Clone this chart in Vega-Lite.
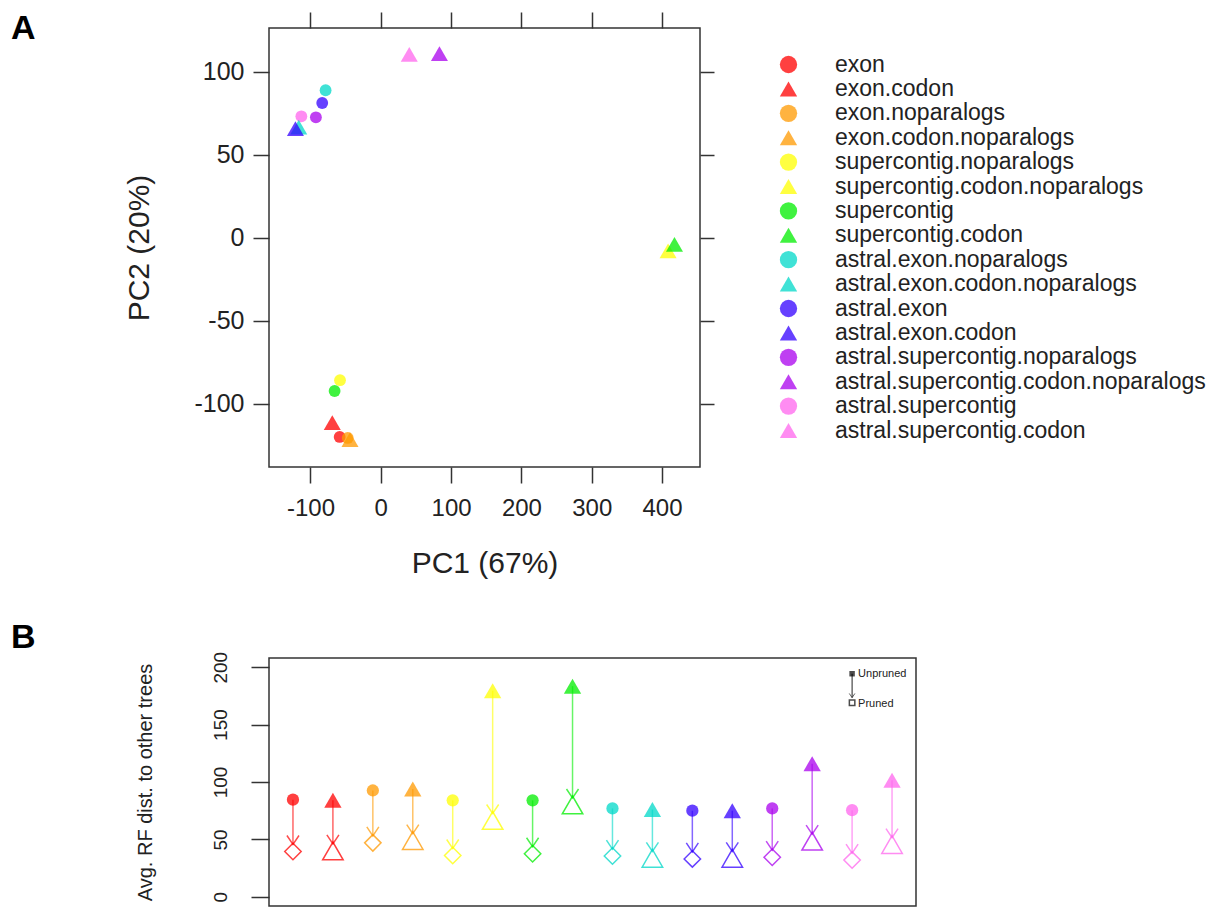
{
  "$schema": "https://vega.github.io/schema/vega-lite/v6.json",
  "background": "white",
  "padding": {"left": 10, "top": 10, "right": 0, "bottom": 0},
  "config": {
    "font": "Liberation Sans",
    "view": {"stroke": "#333", "strokeWidth": 1.5},
    "axis": {"grid": false, "domain": false, "tickColor": "#333", "tickWidth": 1.5, "labelColor": "#222", "titleColor": "#222", "titleFontWeight": "normal"},
    "title": {"color": "#000", "fontWeight": "bold", "fontSize": 34, "anchor": "start", "frame": "group", "baseline": "alphabetic"},
    "legend": {"orient": "none", "legendX": 508, "legendY": 25, "title": null, "labelFontSize": 23, "labelColor": "#222", "labelOffset": 35, "labelLimit": 0, "rowPadding": 0.4, "padding": 0, "symbolLimit": 0, "symbolSize": 300, "symbolStrokeWidth": 0,
      "labelExpr": "datum.label == 'supercontig.codon.noparalogs' ? '\u00a0supercontig.codon.noparalogs' : datum.label"}
  },
  "datasets": {
    "pca": [
      {"method": "exon", "pc1": -58.5, "pc2": -119.9},
      {"method": "exon.codon", "pc1": -69, "pc2": -111.3},
      {"method": "exon.noparalogs", "pc1": -47, "pc2": -120.5},
      {"method": "exon.codon.noparalogs", "pc1": -43.8, "pc2": -121.5},
      {"method": "supercontig.noparalogs", "pc1": -58, "pc2": -85.7},
      {"method": "supercontig.codon.noparalogs", "pc1": 408.6, "pc2": -7.8},
      {"method": "supercontig", "pc1": -65.7, "pc2": -92.2},
      {"method": "supercontig.codon", "pc1": 417.7, "pc2": -3.8},
      {"method": "astral.exon.noparalogs", "pc1": -78.5, "pc2": 89},
      {"method": "astral.exon.codon.noparalogs", "pc1": -116.7, "pc2": 66.8},
      {"method": "astral.exon", "pc1": -83.3, "pc2": 81.3},
      {"method": "astral.exon.codon", "pc1": -121.4, "pc2": 65.8},
      {"method": "astral.supercontig.noparalogs", "pc1": -92.3, "pc2": 72.7},
      {"method": "astral.supercontig.codon.noparalogs", "pc1": 83.4, "pc2": 111},
      {"method": "astral.supercontig", "pc1": -113, "pc2": 73.3},
      {"method": "astral.supercontig.codon", "pc1": 40.5, "pc2": 110.6}
    ],
    "rf": [
      {"method": "exon", "unpruned": 84.6, "pruned": 39.5},
      {"method": "exon.codon", "unpruned": 84, "pruned": 40},
      {"method": "exon.noparalogs", "unpruned": 92.6, "pruned": 47},
      {"method": "exon.codon.noparalogs", "unpruned": 94, "pruned": 49},
      {"method": "supercontig.noparalogs", "unpruned": 84, "pruned": 36},
      {"method": "supercontig.codon.noparalogs", "unpruned": 179.5, "pruned": 66.5},
      {"method": "supercontig", "unpruned": 84, "pruned": 37.5},
      {"method": "supercontig.codon", "unpruned": 183.5, "pruned": 80},
      {"method": "astral.exon.noparalogs", "unpruned": 77, "pruned": 35.5},
      {"method": "astral.exon.codon.noparalogs", "unpruned": 76, "pruned": 33.5},
      {"method": "astral.exon", "unpruned": 75, "pruned": 33},
      {"method": "astral.exon.codon", "unpruned": 75, "pruned": 33.5},
      {"method": "astral.supercontig.noparalogs", "unpruned": 77, "pruned": 34.5},
      {"method": "astral.supercontig.codon.noparalogs", "unpruned": 116, "pruned": 48.5},
      {"method": "astral.supercontig", "unpruned": 75.5, "pruned": 32},
      {"method": "astral.supercontig.codon", "unpruned": 101.5, "pruned": 45.5}
    ]
  },
  "spacing": 41,
  "resolve": {"legend": {"color": "independent", "shape": "independent"}},
  "vconcat": [
    {
      "width": 431,
      "height": 439,
      "title": {"text": "A", "orient": "top", "dx": -258, "dy": 35, "offset": 0},
      "data": {"name": "pca"},
      "encoding": {
        "color": {"field": "method", "type": "nominal",
          "scale": {"domain": ["exon", "exon.codon", "exon.noparalogs", "exon.codon.noparalogs", "supercontig.noparalogs", "supercontig.codon.noparalogs", "supercontig", "supercontig.codon", "astral.exon.noparalogs", "astral.exon.codon.noparalogs", "astral.exon", "astral.exon.codon", "astral.supercontig.noparalogs", "astral.supercontig.codon.noparalogs", "astral.supercontig", "astral.supercontig.codon"],
            "range": ["#ff0000", "#ff0000", "#ff9900", "#ff9900", "#ffff00", "#ffff00", "#00ee00", "#00ee00", "#00d8c8", "#00d8c8", "#3300ff", "#3300ff", "#aa00ee", "#aa00ee", "#ff66ee", "#ff66ee"]},
          "legend": {"encode": {"symbols": {"update": {"size": {"signal": "indexof(datum.value, 'codon') >= 0 ? 430 : 240"}}}}}},
        "shape": {"field": "method", "type": "nominal",
          "scale": {"domain": ["exon", "exon.codon", "exon.noparalogs", "exon.codon.noparalogs", "supercontig.noparalogs", "supercontig.codon.noparalogs", "supercontig", "supercontig.codon", "astral.exon.noparalogs", "astral.exon.codon.noparalogs", "astral.exon", "astral.exon.codon", "astral.supercontig.noparalogs", "astral.supercontig.codon.noparalogs", "astral.supercontig", "astral.supercontig.codon"],
            "range": ["circle", "triangle-up", "circle", "triangle-up", "circle", "triangle-up", "circle", "triangle-up", "circle", "triangle-up", "circle", "triangle-up", "circle", "triangle-up", "circle", "triangle-up"]},
          "legend": {"encode": {"symbols": {"update": {"size": {"signal": "indexof(datum.value, 'codon') >= 0 ? 430 : 240"}}}}}}
      },
      "layer": [
        {
          "transform": [{"filter": "indexof(datum.method, 'codon') < 0"}],
          "mark": {"type": "point", "filled": true, "opacity": 0.75, "strokeWidth": 0, "size": 140},
          "encoding": {
            "x": {"field": "pc1", "type": "quantitative", "scale": {"domain": [-159, 454], "nice": false, "zero": false},
              "axis": {"orient": "bottom", "values": [-100, 0, 100, 200, 300, 400], "labelExpr": "'' + datum.value", "title": "PC1 (67%)", "tickSize": 16, "labelFontSize": 24, "titleFontSize": 30, "labelPadding": 13, "titlePadding": 28}},
            "y": {"field": "pc2", "type": "quantitative", "scale": {"domain": [-138, 126.5], "nice": false, "zero": false},
              "axis": {"orient": "left", "values": [-100, -50, 0, 50, 100], "labelExpr": "'' + datum.value", "title": "PC2 (20%)", "tickSize": 16, "labelFontSize": 25, "titleFontSize": 30, "labelPadding": 9, "titlePadding": 39}}
          }
        },
        {
          "transform": [{"filter": "indexof(datum.method, 'codon') >= 0"}],
          "mark": {"type": "point", "filled": true, "opacity": 0.75, "strokeWidth": 0, "size": 290},
          "encoding": {
            "x": {"field": "pc1", "type": "quantitative", "axis": {"orient": "top", "values": [-100, 0, 100, 200, 300, 400], "labels": false, "title": null, "tickSize": 16}},
            "y": {"field": "pc2", "type": "quantitative", "axis": {"orient": "right", "values": [-100, -50, 0, 50, 100], "labels": false, "title": null, "tickSize": 14}}
          }
        }
      ],
      "resolve": {"axis": {"x": "independent", "y": "independent"}}
    },
    {
      "width": 647,
      "height": 248,
      "title": {"text": "B", "orient": "top", "dx": -258, "dy": 14, "offset": 10},
      "data": {"name": "rf"},
      "encoding": {
        "x": {"field": "method", "type": "nominal", "axis": null,
          "scale": {"type": "point", "padding": 0.6, "domain": ["exon", "exon.codon", "exon.noparalogs", "exon.codon.noparalogs", "supercontig.noparalogs", "supercontig.codon.noparalogs", "supercontig", "supercontig.codon", "astral.exon.noparalogs", "astral.exon.codon.noparalogs", "astral.exon", "astral.exon.codon", "astral.supercontig.noparalogs", "astral.supercontig.codon.noparalogs", "astral.supercontig", "astral.supercontig.codon"]}}
      },
      "layer": [
        {
          "mark": {"type": "rule", "strokeWidth": 1.5, "opacity": 0.6, "y2Offset": -7},
          "encoding": {
            "y": {"field": "unpruned", "type": "quantitative", "scale": {"domain": [-8, 208], "nice": false, "zero": false},
              "axis": {"orient": "left", "values": [0, 50, 100, 150, 200], "title": "Avg. RF dist. to other trees", "tickSize": 18, "labelFontSize": 19, "labelAngle": -90, "labelAlign": "center", "labelBaseline": "bottom", "labelPadding": 21, "titleFontSize": 20, "titlePadding": 56}},
            "y2": {"field": "pruned"},
            "color": {"field": "method", "type": "nominal", "legend": null}
          }
        },
        {
          "mark": {"type": "point", "shape": "M-0.67,-1L0,0L0.67,-1", "filled": false, "size": 324, "strokeWidth": 1.5, "opacity": 0.7, "yOffset": -7},
          "encoding": {
            "y": {"field": "pruned", "type": "quantitative"},
            "color": {"field": "method", "type": "nominal", "legend": null}
          }
        },
        {
          "transform": [{"filter": "indexof(datum.method, 'codon') < 0"}],
          "mark": {"type": "point", "shape": "circle", "filled": true, "size": 150, "opacity": 0.75, "strokeWidth": 0},
          "encoding": {
            "y": {"field": "unpruned", "type": "quantitative"},
            "color": {"field": "method", "type": "nominal", "legend": null}
          }
        },
        {
          "transform": [{"filter": "indexof(datum.method, 'codon') >= 0"}],
          "mark": {"type": "point", "shape": "triangle-up", "filled": true, "size": 300, "opacity": 0.75, "strokeWidth": 0},
          "encoding": {
            "y": {"field": "unpruned", "type": "quantitative"},
            "color": {"field": "method", "type": "nominal", "legend": null}
          }
        },
        {
          "transform": [{"filter": "indexof(datum.method, 'codon') < 0"}],
          "mark": {"type": "point", "shape": "diamond", "filled": false, "size": 270, "opacity": 0.75, "strokeWidth": 1.5},
          "encoding": {
            "y": {"field": "pruned", "type": "quantitative"},
            "color": {"field": "method", "type": "nominal", "legend": null}
          }
        },
        {
          "transform": [{"filter": "indexof(datum.method, 'codon') >= 0"}],
          "mark": {"type": "point", "shape": "triangle-up", "filled": false, "size": 420, "opacity": 0.75, "strokeWidth": 1.5},
          "encoding": {
            "y": {"field": "pruned", "type": "quantitative"},
            "color": {"field": "method", "type": "nominal", "legend": null}
          }
        },
        {
          "data": {"values": [{"label": "Unpruned"}]},
          "mark": {"type": "rule", "strokeWidth": 1, "color": "#222", "y2Offset": -5},
          "encoding": {
            "x": {"datum": "astral.supercontig"},
            "y": {"datum": 194.3, "type": "quantitative"},
            "y2": {"datum": 169.1}
          }
        },
        {
          "data": {"values": [{"label": "Unpruned"}]},
          "mark": {"type": "point", "shape": "M-0.67,-1L0,0L0.67,-1", "filled": false, "size": 70, "strokeWidth": 1, "color": "#222", "yOffset": -5},
          "encoding": {
            "x": {"datum": "astral.supercontig"},
            "y": {"datum": 169.1, "type": "quantitative"}
          }
        },
        {
          "data": {"values": [{"label": "Unpruned"}]},
          "mark": {"type": "point", "shape": "square", "filled": true, "size": 30, "color": "#000", "strokeWidth": 0},
          "encoding": {
            "x": {"datum": "astral.supercontig"},
            "y": {"datum": 194.3, "type": "quantitative"}
          }
        },
        {
          "data": {"values": [{"label": "Pruned"}]},
          "mark": {"type": "point", "shape": "square", "filled": false, "size": 30, "color": "#000", "strokeWidth": 1.5},
          "encoding": {
            "x": {"datum": "astral.supercontig"},
            "y": {"datum": 169.1, "type": "quantitative"}
          }
        },
        {
          "data": {"values": [{"label": "Unpruned"}]},
          "mark": {"type": "text", "align": "left", "baseline": "middle", "dx": 6, "fontSize": 11, "color": "#222"},
          "encoding": {
            "x": {"datum": "astral.supercontig"},
            "y": {"datum": 194.3, "type": "quantitative"},
            "text": {"field": "label"}
          }
        },
        {
          "data": {"values": [{"label": "Pruned"}]},
          "mark": {"type": "text", "align": "left", "baseline": "middle", "dx": 6, "fontSize": 11, "color": "#222"},
          "encoding": {
            "x": {"datum": "astral.supercontig"},
            "y": {"datum": 168, "type": "quantitative"},
            "text": {"field": "label"}
          }
        }
      ]
    }
  ]
}
